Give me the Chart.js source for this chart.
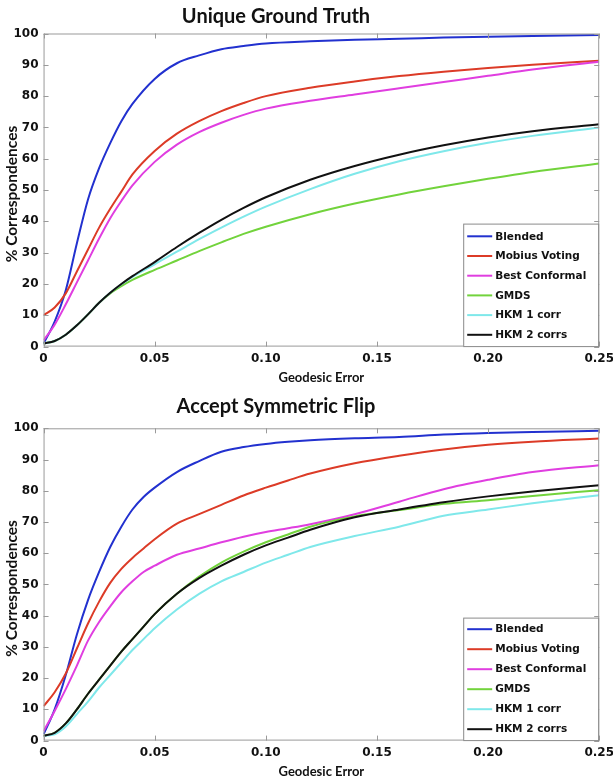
<!DOCTYPE html>
<html>
<head>
<meta charset="utf-8">
<script src="https://cdn.jsdelivr.net/npm/chart.js@4.4.0/dist/chart.umd.min.js"></script>
<style>
  html, body { margin: 0; padding: 0; background: #fff; overflow: hidden; }
  #wrap { position: relative; width: 613px; height: 783px; overflow: hidden; }
  canvas { position: absolute; left: 0; }
  #topChart { top: 0; }
  #bottomChart { top: 388px; }
</style>
</head>
<body>
<div id="wrap">
  <canvas id="topChart" width="619" height="388"></canvas>
  <canvas id="bottomChart" width="619" height="395"></canvas>
</div>
<script>
const seriesNames = ["Blended", "Mobius Voting", "Best Conformal", "GMDS", "HKM 1 corr", "HKM 2 corrs"];
const seriesColors = ["#2231cf", "#dc3b27", "#e03ee0", "#72d33c", "#7fe8ea", "#111111"];
const xTicks = [0, 0.05, 0.1, 0.15, 0.2, 0.25];

// Unique Ground Truth
const xTop = [0, 0.005, 0.01, 0.015, 0.02, 0.025, 0.03, 0.035, 0.04, 0.05, 0.06, 0.07, 0.08, 0.09, 0.1, 0.12, 0.14, 0.16, 0.18, 0.2, 0.22, 0.25];
const topBlended = [1, 8, 18, 33, 47, 57, 65, 72, 77.5, 85.5, 90.5, 93, 95, 96, 96.8, 97.5, 98, 98.3, 98.7, 99, 99.2, 99.5];
const topMobius = [10, 12.5, 17, 24, 31, 38, 44, 49.5, 55, 62.5, 68, 72, 75.2, 77.8, 80, 82.7, 84.7, 86.4, 87.8, 89, 90, 91.3];
const topConformal = [2, 7, 13.5, 20.5, 27.5, 34.5, 41, 46.5, 51.5, 59, 64.5, 68.5, 71.5, 74, 76, 78.5, 80.5, 82.5, 84.5, 86.5, 88.5, 91];
const topGmds = [1, 1.8, 3.8, 6.8, 10.3, 14, 17, 19.3, 21.3, 24.5, 27.5, 30.5, 33.3, 36, 38.3, 42.3, 45.7, 48.6, 51.2, 53.6, 55.8, 58.5];
const topHkm1 = [1, 1.8, 3.8, 6.8, 10.3, 14, 17.2, 19.9, 22.3, 26.3, 30.3, 34.3, 38, 41.5, 44.7, 50.3, 55.2, 59.2, 62.4, 65.1, 67.3, 70];
const topHkm2 = [1, 1.8, 3.8, 6.8, 10.3, 14, 17.2, 20, 22.5, 27, 31.8, 36.3, 40.5, 44.3, 47.7, 53.3, 57.7, 61.3, 64.3, 66.8, 68.8, 71];

// Accept Symmetric Flip
const xBottom = [0, 0.005, 0.01, 0.015, 0.02, 0.025, 0.03, 0.035, 0.04, 0.045, 0.05, 0.06, 0.07, 0.08, 0.09, 0.1, 0.11, 0.12, 0.14, 0.16, 0.18, 0.2, 0.22, 0.25];
const flipBlended = [2, 10, 21, 34, 45, 54, 62, 68.5, 74, 78, 81, 86, 89.5, 92.5, 94, 95, 95.7, 96.2, 96.8, 97.2, 98, 98.5, 98.8, 99.2];
const flipMobius = [11, 15.5, 21.5, 29.5, 37.5, 44.5, 50.5, 55, 58.5, 61.5, 64.5, 69.5, 72.5, 75.5, 78.5, 81, 83.3, 85.5, 88.8, 91.2, 93.2, 94.7, 95.7, 96.7];
const flipConformal = [3, 9.5, 16.5, 24, 32, 38, 43, 47.5, 51, 54, 56, 59.5, 61.5, 63.5, 65.3, 66.8, 68, 69.3, 72.5, 76.5, 80.5, 83.5, 86, 88.2];
const flipGmds = [1.5, 2.5, 5.5, 10, 15, 19.5, 24, 28.5, 32.5, 36.5, 40.5, 47, 52.5, 57, 60.5, 63.5, 66, 68.5, 71.8, 73.8, 75.8, 77, 78.3, 80.2];
const flipHkm1 = [1.5, 2, 4.5, 8.5, 12.5, 17, 21, 25, 29, 32.5, 36, 42, 47, 51, 54, 57, 59.5, 62, 65.5, 68.5, 72, 74, 76, 78.6];
const flipHkm2 = [1.5, 2.5, 5.5, 10, 15, 19.5, 24, 28.5, 32.5, 36.5, 40.5, 47, 52, 56, 59.5, 62.5, 65, 67.5, 71.5, 74, 76.3, 78.2, 79.8, 81.8];

// MATLAB-style box, inward ticks, titles and legend inside the axes
const matlabFrame = {
  id: "matlabFrame",
  afterDatasetsDraw(chart) {
    const { ctx, chartArea: a, scales } = chart;
    ctx.save();
    ctx.strokeStyle = "#9a9a9a";
    ctx.lineWidth = 1;
    ctx.strokeRect(a.left + 0.5, a.top + 0.5, a.width - 1, a.height - 1);
    ctx.beginPath();
    scales.x.ticks.forEach((t) => {
      const px = Math.round(scales.x.getPixelForValue(t.value)) + 0.5;
      ctx.moveTo(px, a.bottom); ctx.lineTo(px, a.bottom - 5);
      ctx.moveTo(px, a.top); ctx.lineTo(px, a.top + 5);
    });
    scales.y.ticks.forEach((t) => {
      const py = Math.round(scales.y.getPixelForValue(t.value)) + 0.5;
      ctx.moveTo(a.left, py); ctx.lineTo(a.left + 5, py);
      ctx.moveTo(a.right, py); ctx.lineTo(a.right - 5, py);
    });
    ctx.stroke();
    ctx.restore();
  },
  afterDraw(chart, args, opts) {
    const { ctx, chartArea: a } = chart;
    ctx.save();
    ctx.fillStyle = "#111";
    ctx.textAlign = "center";
    ctx.textBaseline = "middle";
    ctx.font = "bold 20px Lato";
    ctx.fillText(opts.title, 276, opts.titleY);
    ctx.font = "bold 15.5px Lato";
    ctx.translate(12, (a.top + a.bottom) / 2 + 4);
    ctx.rotate(-Math.PI / 2);
    ctx.fillText("% Correspondences", 0, 0);
    ctx.restore();

    const w = 135, h = 123, rowH = opts.rowH;
    const left = a.right - 1 - w, top = a.bottom - h;
    ctx.save();
    ctx.fillStyle = "#fff";
    ctx.fillRect(left, top, w, h);
    ctx.strokeStyle = "#8a8a8a";
    ctx.lineWidth = 1;
    ctx.strokeRect(left + 0.5, top + 0.5, w, h - 0.5);
    ctx.font = "bold 10.5px 'DejaVu Sans'";
    ctx.textBaseline = "middle";
    ctx.textAlign = "left";
    chart.data.datasets.forEach((ds, i) => {
      const y = top + opts.firstRow + i * rowH;
      ctx.strokeStyle = ds.borderColor;
      ctx.lineWidth = 2;
      ctx.beginPath();
      ctx.moveTo(left + 4, y);
      ctx.lineTo(left + 29, y);
      ctx.stroke();
      ctx.fillStyle = "#111";
      ctx.fillText(ds.label, left + 32, y + 0.5);
    });
    ctx.restore();
  }
};

function makeChart(id, xs, series, padTop, padBottom, frameOpts) {
  const datasets = series.map((ys, i) => ({
    label: seriesNames[i],
    data: xs.map((x, j) => ({ x: x, y: ys[j] })),
    borderColor: seriesColors[i],
    borderWidth: 2,
    pointRadius: 0,
    fill: false,
    cubicInterpolationMode: "monotone",
    order: series.length - i,
  }));
  const tickFont = { family: "DejaVu Sans", size: 12, weight: "bold" };
  return new Chart(document.getElementById(id), {
    type: "line",
    data: { datasets },
    options: {
      responsive: false,
      animation: false,
      events: [],
      layout: { padding: { left: 8.5, right: 0, top: padTop, bottom: padBottom } },
      plugins: {
        legend: { display: false },
        tooltip: { enabled: false },
        title: { display: false },
        matlabFrame: frameOpts,
      },
      scales: {
        x: {
          type: "linear",
          min: 0,
          max: 0.25,
          afterBuildTicks: (axis) => { axis.ticks = xTicks.map((v) => ({ value: v })); },
          ticks: { padding: 5, color: "#111", font: tickFont, maxRotation: 0 },
          grid: { display: false, drawTicks: false },
          border: { display: false },
          title: {
            display: true,
            text: "Geodesic Error",
            color: "#111",
            font: { family: "Lato", size: 13, weight: "bold", lineHeight: 1 },
            padding: { top: 0, bottom: 0 },
          },
        },
        y: {
          min: 0,
          max: 100,
          ticks: { stepSize: 10, padding: 5, color: "#111", font: tickFont },
          grid: { display: false, drawTicks: false },
          border: { display: false },
        },
      },
    },
    plugins: [matlabFrame],
  });
}

makeChart("topChart", xTop,
  [topBlended, topMobius, topConformal, topGmds, topHkm1, topHkm2],
  33.5, 4, { title: "Unique Ground Truth", titleY: 16.7, rowH: 19.7, firstRow: 12.7 });

makeChart("bottomChart", xBottom,
  [flipBlended, flipMobius, flipConformal, flipGmds, flipHkm1, flipHkm2],
  40.3, 5, { title: "Accept Symmetric Flip", titleY: 18.7, rowH: 20, firstRow: 11.6 });
</script>
</body>
</html>
